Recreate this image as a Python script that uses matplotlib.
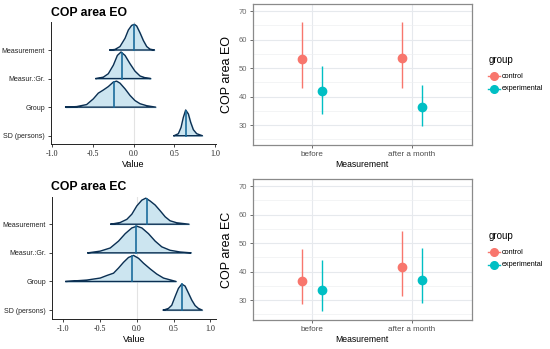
import matplotlib
matplotlib.use('Agg')
import matplotlib.pyplot as plt
import numpy as np
from matplotlib.lines import Line2D

plt.rcParams['font.family'] = ['Liberation Sans', 'DejaVu Sans']

params = ['SD (persons)', 'Group', 'Measur.:Gr.', 'Measurement']

# ---- posterior density outlines (value, relative height) ----
eo_meas_x = [-0.290, -0.229, -0.168, -0.106, -0.065, -0.025, 0.008, 0.037, 0.078, 0.119, 0.160, 0.200, 0.254]
eo_meas_h = [0, 0.02, 0.12, 0.41, 0.70, 0.86, 0.90, 0.84, 0.60, 0.33, 0.12, 0.03, 0]
eo_mg_x = [-0.462, -0.372, -0.311, -0.249, -0.200, -0.155, -0.106, -0.045, 0.016, 0.078, 0.139, 0.209]
eo_mg_h = [0, 0.05, 0.17, 0.47, 0.81, 0.93, 0.81, 0.52, 0.26, 0.09, 0.03, 0]
eo_grp_x = [-0.834, -0.699, -0.577, -0.495, -0.434, -0.372, -0.311, -0.249, -0.209, -0.168, -0.106, -0.045, 0.016, 0.078, 0.160, 0.270]
eo_grp_h = [0, 0.02, 0.09, 0.29, 0.49, 0.60, 0.72, 0.88, 0.91, 0.84, 0.64, 0.41, 0.23, 0.12, 0.05, 0]
eo_sd_x = [0.495, 0.548, 0.581, 0.609, 0.638, 0.671, 0.699, 0.732, 0.773, 0.843]
eo_sd_h = [0, 0.07, 0.29, 0.64, 0.90, 0.76, 0.47, 0.21, 0.07, 0]
eo_medians = [0.646, -0.237, -0.147, 0.0]  # SD, Group, Measur.:Gr., Measurement

ec_meas_x = [-0.353, -0.226, -0.136, -0.068, 0.0, 0.068, 0.122, 0.181, 0.249, 0.317, 0.385, 0.452, 0.543, 0.710]
ec_meas_h = [0, 0.06, 0.17, 0.35, 0.64, 0.84, 0.91, 0.81, 0.67, 0.47, 0.26, 0.12, 0.05, 0]
ec_mg_x = [-0.665, -0.498, -0.362, -0.249, -0.158, -0.068, 0.0, 0.068, 0.158, 0.249, 0.339, 0.452, 0.588, 0.738]
ec_mg_h = [0, 0.06, 0.17, 0.41, 0.67, 0.87, 0.93, 0.87, 0.67, 0.41, 0.21, 0.09, 0.03, 0]
ec_grp_x = [-0.964, -0.679, -0.498, -0.407, -0.317, -0.249, -0.181, -0.113, -0.045, 0.023, 0.090, 0.181, 0.271, 0.362, 0.534]
ec_grp_h = [0, 0.05, 0.12, 0.21, 0.29, 0.47, 0.67, 0.84, 0.91, 0.81, 0.64, 0.44, 0.26, 0.12, 0]
ec_sd_x = [0.362, 0.430, 0.475, 0.520, 0.566, 0.611, 0.656, 0.701, 0.747, 0.792, 0.837, 0.890]
ec_sd_h = [0, 0.06, 0.17, 0.47, 0.76, 0.91, 0.84, 0.60, 0.35, 0.16, 0.06, 0]
ec_medians = [0.62, -0.068, -0.01, 0.14]

# ---- point ranges ----
measurements = ['before', 'after a month']
groups = ['control', 'experimental']
eo_ctrl_mean = [53.2, 53.5]; eo_ctrl_lo = [43.1, 43.1]; eo_ctrl_hi = [66.1, 66.1]
eo_exp_mean = [41.8, 36.2]; eo_exp_lo = [34.0, 29.6]; eo_exp_hi = [50.8, 43.9]
ec_ctrl_mean = [36.7, 41.5]; ec_ctrl_lo = [28.6, 31.6]; ec_ctrl_hi = [48.1, 54.4]
ec_exp_mean = [33.5, 37.0]; ec_exp_lo = [26.0, 28.8]; ec_exp_hi = [44.2, 48.2]

W, H = 550, 349
fig = plt.figure(figsize=(5.5, 3.49), dpi=100)
fig.patch.set_facecolor('white')

def fx(px):
    return px / W

def fy(py):
    return 1 - py / H

FILL = '#cce5f0'
EDGE = '#0b2f52'
MED = '#1b6c9c'

def ridge_panel(rect, curves, medians, xlim, ylim, title, title_y):
    ax = fig.add_axes(rect)
    ax.axvline(0, color='#e3e3e3', lw=0.8, zorder=0)
    for i in range(len(curves) - 1, -1, -1):
        x, h = curves[i]
        x = np.asarray(x); h = np.asarray(h)
        base = i
        ax.fill_between(x, base, base + h, color=FILL, zorder=2 + (3 - i))
        ax.plot(np.r_[x, x[0]], np.r_[base + h, base], color=EDGE, lw=1.0,
                zorder=3 + (3 - i), solid_joinstyle='round')
        m = medians[i]
        hm = np.interp(m, x, h)
        ax.plot([m, m], [base, base + hm], color=MED, lw=1.2, zorder=3 + (3 - i))
    ax.set_xlim(*xlim)
    ax.set_ylim(*ylim)
    ax.set_yticks(range(4))
    ax.set_yticklabels(params, fontsize=5.0)
    ax.set_xticks([-1.0, -0.5, 0.0, 0.5, 1.0])
    ax.set_xticklabels(['-1.0', '-0.5', '0.0', '0.5', '1.0'], family='Liberation Serif', fontsize=5.8)
    ax.tick_params(axis='both', length=2.5, width=0.6, pad=1.8, colors='#222222')
    for s in ['top', 'right']:
        ax.spines[s].set_visible(False)
    for s in ['left', 'bottom']:
        ax.spines[s].set_linewidth(0.7)
        ax.spines[s].set_color('#222222')
    ax.set_xlabel('Value', fontsize=6.5, labelpad=1.5)
    fig.text(fx(51), fy(title_y), title, fontsize=8.8, fontweight='bold', va='center', ha='left')
    return ax

ridge_panel([fx(51), fy(144), fx(165), 122 / H],
            [(eo_sd_x, eo_sd_h), (eo_grp_x, eo_grp_h), (eo_mg_x, eo_mg_h), (eo_meas_x, eo_meas_h)],
            eo_medians, (-1.014, 1.01), (-0.29, 3.98), 'COP area EO', 12.5)
ridge_panel([fx(52), fy(319), fx(164), 122 / H],
            [(ec_sd_x, ec_sd_h), (ec_grp_x, ec_grp_h), (ec_mg_x, ec_mg_h), (ec_meas_x, ec_meas_h)],
            ec_medians, (-1.154, 1.077), (-0.31, 3.95), 'COP area EC', 187.5)

CTRL = '#F8766D'
EXPC = '#00BFC4'

def range_panel(rect, cm, clo, chi, em, elo, ehi, ylabel):
    ax = fig.add_axes(rect)
    xs = np.arange(1, len(measurements) + 1)
    d = 0.1
    ax.vlines(xs - d, clo, chi, color=CTRL, lw=1.0, zorder=3)
    ax.plot(xs - d, cm, 'o', color=CTRL, ms=6, zorder=4)
    ax.vlines(xs + d, elo, ehi, color=EXPC, lw=1.0, zorder=3)
    ax.plot(xs + d, em, 'o', color=EXPC, ms=6, zorder=4)
    ax.set_xlim(0.4, 2.6)
    ax.set_ylim(23, 72.5)
    ax.set_xticks(xs)
    ax.set_xticklabels(measurements, fontsize=5.8, color='#4d4d4d')
    ax.set_yticks([30, 40, 50, 60, 70])
    ax.set_yticks([25, 35, 45, 55, 65], minor=True)
    ax.tick_params(axis='y', which='major', labelsize=5.5, labelcolor='#6a6a6a', length=2.5, width=0.6, color='#555555', pad=1.5)
    ax.tick_params(axis='x', which='major', length=2.5, width=0.6, color='#555555', pad=2)
    ax.tick_params(which='minor', length=0)
    ax.grid(True, which='major', color='#e6e9ed', lw=0.8, zorder=0)
    ax.grid(True, which='minor', axis='y', color='#eef0f2', lw=0.5, zorder=0)
    ax.set_axisbelow(True)
    for s in ax.spines.values():
        s.set_color('#8a8a8a')
        s.set_linewidth(0.9)
    ax.set_xlabel('Measurement', fontsize=6.2, labelpad=1.5)
    ax.set_ylabel(ylabel, fontsize=9, labelpad=4)
    return ax

range_panel([fx(252.7), fy(145), fx(219), 141 / H],
            eo_ctrl_mean, eo_ctrl_lo, eo_ctrl_hi, eo_exp_mean, eo_exp_lo, eo_exp_hi, 'COP area EO')
range_panel([fx(252.7), fy(320), fx(219), 141 / H],
            ec_ctrl_mean, ec_ctrl_lo, ec_ctrl_hi, ec_exp_mean, ec_exp_lo, ec_exp_hi, 'COP area EC')

def legend(title_y):
    fig.text(fx(489), fy(title_y), 'group', fontsize=7, va='center', ha='left')
    for k, (g, c) in enumerate(zip(groups, [CTRL, EXPC])):
        yy = title_y + 16 + 12.7 * k
        fig.lines.append(Line2D([fx(488), fx(500)], [fy(yy), fy(yy)], color=c, lw=1.0, transform=fig.transFigure))
        fig.lines.append(Line2D([fx(494)], [fy(yy)], marker='o', ms=5.5, color=c, transform=fig.transFigure))
        fig.text(fx(502), fy(yy), g, fontsize=5.2, va='center', ha='left')

legend(60)
legend(236)

fig.savefig('out.png', dpi=100, facecolor='white')
